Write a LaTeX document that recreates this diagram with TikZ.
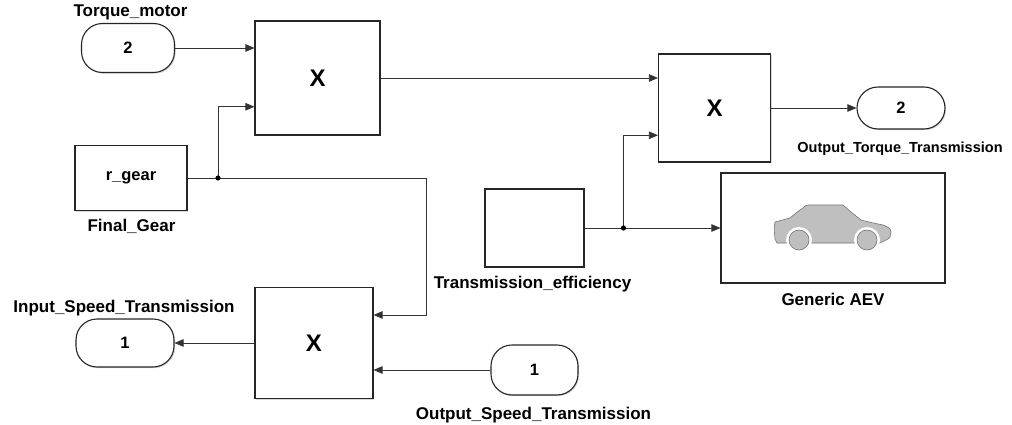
\documentclass[tikz,border=0pt]{standalone}
\usepackage{fontspec}
\setmainfont{Liberation Sans}
\usetikzlibrary{arrows.meta,calc,shadows}

\tikzset{
  blk/.style={draw=black!85, line width=1.1pt, fill=white, inner sep=0pt,
    font=\bfseries\fontsize{16.5}{19}\selectfont,
    drop shadow={shadow xshift=1.2pt,shadow yshift=-1.2pt,opacity=0.3}},
  prod/.style={blk, font=\bfseries\fontsize{24}{27}\selectfont},
  port/.style={blk, rounded corners=21pt},
  lbl/.style={inner sep=0pt, anchor=base, font=\bfseries\fontsize{17}{20}\selectfont},
  wire/.style={draw=black!80, line width=0.75pt, -{Triangle[length=9pt,width=7.5pt]}},
}

\begin{document}
\begin{tikzpicture}[x=1pt,y=1pt,yscale=-1]
	\useasboundingbox (0,0) rectangle (1012,425);
	
	%Shape: Terminals
	\node[port, minimum width=93pt, minimum height=49pt] (tqm) at (128,48) {2};
	\node[port, minimum width=88pt, minimum height=42pt] (ots) at (901,108) {2};
	\node[port, minimum width=98pt, minimum height=48pt] (isp) at (125,343) {1};
	\node[port, minimum width=87pt, minimum height=50pt] (osp) at (534.5,370) {1};
	%Shape: Blocks
	\node[blk, minimum width=112pt, minimum height=65pt] (gear) at (131,178) {r\_gear};
	\node[blk, minimum width=99pt, minimum height=78pt] (eff) at (534.5,228) {};
	\node[blk, minimum width=224pt, minimum height=110pt] (aev) at (833,228) {};
	%Shape: Products
	\node[prod, minimum width=125pt, minimum height=114pt] (mul1) at (317.5,78) {X};
	\node[prod, minimum width=112pt, minimum height=108pt] (mul2) at (714.5,108) {X};
	\node[prod, minimum width=118pt, minimum height=111pt] (mul3) at (314,343) {X};
	
	% input ports
	\coordinate (m1b) at ($(mul1.north west)!0.75!(mul1.south west)$);
	\coordinate (m2b) at ($(mul2.north west)!0.75!(mul2.south west)$);
	\coordinate (m3a) at ($(mul3.north east)!0.25!(mul3.south east)$);
	% branch points
	\coordinate (j1) at (218,178);
	\coordinate (j2) at (623.5,228);
	\coordinate (bend) at (426,178);
	
	%Straight Lines
	\draw[wire] (tqm.east) -- (tqm.east -| mul1.west);
	\draw[wire,-] (gear.east) -- (j1);
	\draw[wire] (j1) |- (m1b);
	\draw[wire] (j1) -- (bend) |- (m3a);
	\draw[wire] (mul1.east) -- (mul1.east -| mul2.west);
	\draw[wire,-] (eff.east) -- (j2);
	\draw[wire] (j2) |- (m2b);
	\draw[wire] (j2) -- (aev.west);
	\draw[wire] (mul2.east) -- (ots.west);
	\draw[wire] (osp.west) -- (osp.west -| mul3.east);
	\draw[wire] (mul3.west) -- (isp.east);
	\fill (j1) circle (2.6) (j2) circle (2.6);
	
	%Shape: Car
	\begin{scope}[shift={(aev.center)}]
		\filldraw[fill=black!25, draw=black!55, line width=0.6pt] (-56,15) -- (-58,11) .. controls (-59,0) .. (-58,-6) .. controls (-50,-8) .. (-43,-10) .. controls (-36,-16) .. (-30,-20) .. controls (-27,-23) .. (-22,-23) -- (10,-23) .. controls (18,-16) .. (28,-8) .. controls (40,-5) .. (50,-3) .. controls (57,0) .. (58,4) .. controls (57,10) .. (55,11) -- (47,15) -- cycle;
		\fill[white] (-34,12) circle (13) (34,12) circle (13);
		\filldraw[fill=black!25, draw=black!55, line width=0.6pt] (-34,12) circle (10) (34,12) circle (10);
	\end{scope}
	
	% Text Node
	\node[lbl] (tqmlbl) at (130.5,17) {Torque\_motor};
	% Text Node
	\node[lbl] (gearlbl) at (131.5,231) {Final\_Gear};
	% Text Node
	\node[lbl] (isplbl) at (124,312) {Input\_Speed\_Transmission};
	% Text Node
	\node[lbl] (osplbl) at (533.5,419) {Output\_Speed\_Transmission};
	% Text Node
	\node[lbl] (efflbl) at (532.5,288.5) {Transmission\_efficiency};
	% Text Node
	\node[lbl, font=\bfseries\fontsize{14.5}{17}\selectfont] (otslbl) at (900,152.5) {Output\_Torque\_Transmission};
	% Text Node
	\node[lbl] (aevlbl) at (833,305) {Generic AEV};
	
\end{tikzpicture}
\end{document}
